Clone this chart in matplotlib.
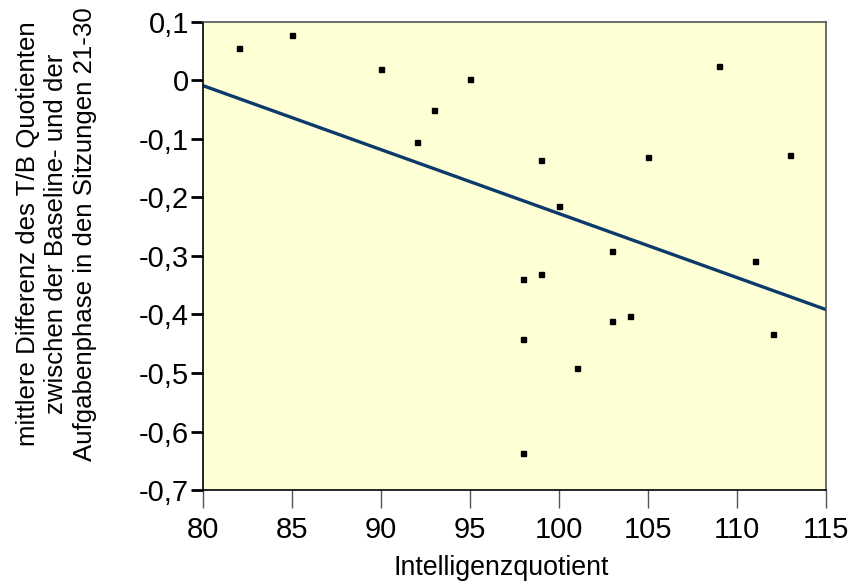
import numpy as np
import matplotlib
matplotlib.use("Agg")
import matplotlib.pyplot as plt
from matplotlib.ticker import FuncFormatter

plt.rcParams['font.family'] = ['Liberation Sans', 'DejaVu Sans']

# Intelligenzquotient und mittlere Differenz T/B Quotient
iq = [82, 85, 90, 95, 93, 92, 109, 99, 105, 113, 100,
      103, 99, 98, 104, 103, 98, 101, 98, 111, 112]
diff = [0.056, 0.078, 0.020, 0.003, -0.051, -0.105, 0.025, -0.136, -0.131, -0.127, -0.215,
        -0.291, -0.331, -0.339, -0.402, -0.411, -0.442, -0.491, -0.637, -0.309, -0.433]

x_ticks = [80, 85, 90, 95, 100, 105, 110, 115]
y_ticks = [0.1, 0, -0.1, -0.2, -0.3, -0.4, -0.5, -0.6, -0.7]

fig = plt.figure(figsize=(8.54, 5.83), dpi=100)
ax = fig.add_axes([0.2377, 0.1595, 0.7295, 0.8028])
ax.set_facecolor('#ffffd6')

ax.plot(iq, diff, 's', color='black', markersize=3.6, zorder=3)

# Regressionsgerade
k, d = np.polyfit(iq, diff, 1)
xs = np.array([80, 115])
ax.plot(xs, k * xs + d, color='#0b3a6b', linewidth=2.4, zorder=2)

ax.set_xlim(80, 115)
ax.set_ylim(-0.7, 0.1)
ax.set_xticks(x_ticks)
ax.set_yticks(y_ticks)


def komma(v, pos):
    if abs(v) < 1e-9:
        return '0'
    return ('%.1f' % v).replace('.', ',')


ax.yaxis.set_major_formatter(FuncFormatter(komma))
ax.tick_params(axis='x', length=13, width=1, color='#555555', labelsize=21, pad=6)
ax.tick_params(axis='y', length=9, width=2, color='black', labelsize=21, pad=1)

for s in ['left', 'bottom']:
    ax.spines[s].set_color('black')
    ax.spines[s].set_linewidth(1.2)
for s in ['top', 'right']:
    ax.spines[s].set_color('#555555')
    ax.spines[s].set_linewidth(1.2)

fig.text(0.587, 0.026, 'Intelligenzquotient', fontsize=19.3, ha='center', va='center')
fig.text(0.066, 0.599, 'mittlere Differenz des T/B Quotienten\n'
         'zwischen der Baseline- und der\n'
         'Aufgabenphase in den Sitzungen 21-30',
         fontsize=18.6, rotation=90, ha='center', va='center',
         multialignment='center', linespacing=1.24)

fig.savefig('out.png', dpi=100)
